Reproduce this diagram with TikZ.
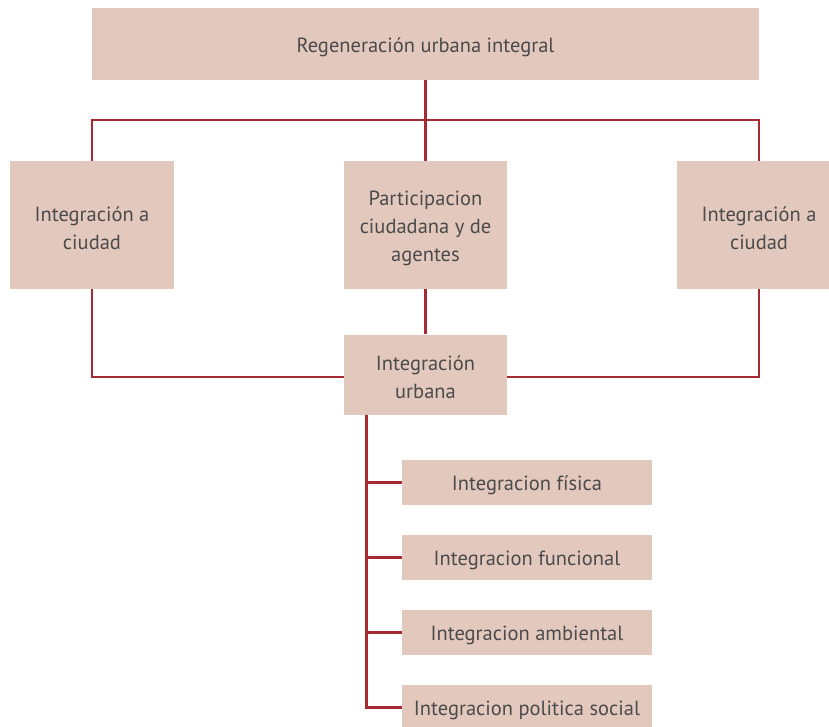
\documentclass[tikz,border=0pt]{standalone}
\usepackage{fontspec}
\setmainfont{PT Sans}
\definecolor{boxfill}{HTML}{E3C8BD}
\definecolor{linered}{HTML}{A52A32}
\definecolor{txt}{HTML}{4B4B4B}
\begin{document}
\begin{tikzpicture}[x=1pt,y=-1pt,
  box/.style={rectangle, fill=boxfill, draw=none, inner sep=0pt,
    label={[text=txt, align=center, inner sep=0pt, yshift=-3pt,
      font=\fontsize{20.5}{28}\selectfont]center:#1}},
  conn/.style={draw=linered, line width=2.2pt}]
\useasboundingbox[fill=white] (0,0) rectangle (829,727);
\node[box={Regeneración urbana integral}, minimum width=667pt, minimum height=72pt] (top) at (425.5,44) {};
\node[box={Integración a\\ciudad}, minimum width=164pt, minimum height=128pt] (left) at (92,225) {};
\node[box={Participacion\\ciudadana y de\\agentes}, minimum width=163pt, minimum height=128pt] (mid) at (425.5,225) {};
\node[box={Integración a\\ciudad}, minimum width=164pt, minimum height=128pt] (right) at (759,225) {};
\node[box={Integración\\urbana}, minimum width=163pt, minimum height=80pt] (urb) at (425.5,374.5) {};
\node[box={Integracion física}, minimum width=250pt, minimum height=45pt] (s1) at (527,482.5) {};
\node[box={Integracion funcional}, minimum width=250pt, minimum height=45pt] (s2) at (527,557.5) {};
\node[box={Integracion ambiental}, minimum width=250pt, minimum height=45pt] (s3) at (527,632.5) {};
\node[box={Integracion politica social}, minimum width=250pt, minimum height=45pt] (s4) at (527,707.5) {};
\coordinate (bar) at (425.5,120);
\coordinate (t) at (366.5,414.5);
\draw[conn] (top.south) -- (mid.north);
\draw[conn] (left.north) |- (bar) -| (right.north);
\draw[conn] (left.south) |- ([yshift=-2.5pt]urb.west);
\draw[conn] (right.south) |- ([yshift=-2.5pt]urb.east);
\draw[conn] (mid.south) -- (urb.north);
\draw[conn] (t) |- (s4.west);
\foreach \s in {s1,s2,s3} \draw[conn] (t |- \s.west) -- (\s.west);
\end{tikzpicture}
\end{document}
